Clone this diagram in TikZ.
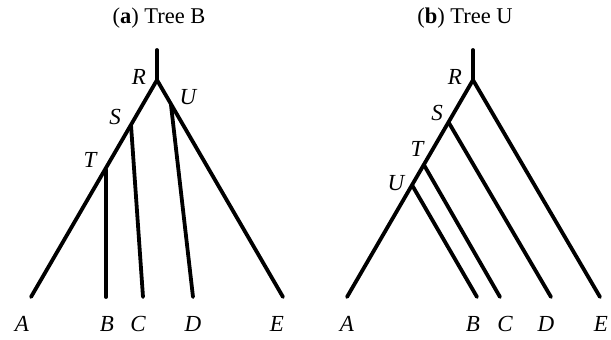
\documentclass[tikz,border=0pt]{standalone}
\usepackage{fontspec}
\setmainfont{Liberation Serif}
\begin{document}
\begin{tikzpicture}[x=1pt,y=-1pt,
  branch/.style={line width=3.8pt,line cap=round,line join=round},
  lbl/.style={font=\fontsize{23}{25}\selectfont\itshape,inner sep=0pt},
  ttl/.style={font=\fontsize{22.5}{25}\selectfont,inner sep=0pt}]
\useasboundingbox (0,0) rectangle (611,340);
% ---- Tree (a)
\node[ttl] (ta) at (159,18) {(\textbf{a}) Tree B};
\coordinate (aTop) at (157,50);
\coordinate (aR) at (157,80);
\coordinate (aS) at (131,125);
\coordinate (aT) at (106,170);
\coordinate (aU) at (171,105);
\coordinate (aA) at (31,297);
\coordinate (aB) at (106,297);
\coordinate (aC) at (143,297);
\coordinate (aD) at (193,297);
\coordinate (aE) at (283,297);
\draw[branch] (aTop) -- (aR);
\draw[branch] (aA) -- (aR) -- (aE);
\draw[branch] (aS) -- (aC);
\draw[branch] (aT) -- (aB);
\draw[branch] (aU) -- (aD);
\node[lbl] (laR) at (139,77) {R};
\node[lbl] (laU) at (188,97) {U};
\node[lbl] (laS) at (115,117) {S};
\node[lbl] (laT) at (90,160) {T};
\node[lbl] (laA) at (22,324) {A};
\node[lbl] (laB) at (107,324) {B};
\node[lbl] (laC) at (138,324) {C};
\node[lbl] (laD) at (193,324) {D};
\node[lbl] (laE) at (277,324) {E};
% ---- Tree (b)
\node[ttl] (tb) at (465,18) {(\textbf{b}) Tree U};
\coordinate (bTop) at (473,50);
\coordinate (bR) at (473,80);
\coordinate (bS) at (449,123);
\coordinate (bT) at (424,165);
\coordinate (bU) at (412,185);
\coordinate (bA) at (347,297);
\coordinate (bB) at (477,297);
\coordinate (bC) at (500,297);
\coordinate (bD) at (551,297);
\coordinate (bE) at (600,297);
\draw[branch] (bTop) -- (bR);
\draw[branch] (bA) -- (bR) -- (bE);
\draw[branch] (bS) -- (bD);
\draw[branch] (bT) -- (bC);
\draw[branch] (bU) -- (bB);
\node[lbl] (lbR) at (455,77) {R};
\node[lbl] (lbS) at (437,113) {S};
\node[lbl] (lbT) at (417,149) {T};
\node[lbl] (lbU) at (396,183) {U};
\node[lbl] (lbA) at (347,324) {A};
\node[lbl] (lbB) at (473,324) {B};
\node[lbl] (lbC) at (505,324) {C};
\node[lbl] (lbD) at (546,324) {D};
\node[lbl] (lbE) at (601,324) {E};
\end{tikzpicture}
\end{document}
